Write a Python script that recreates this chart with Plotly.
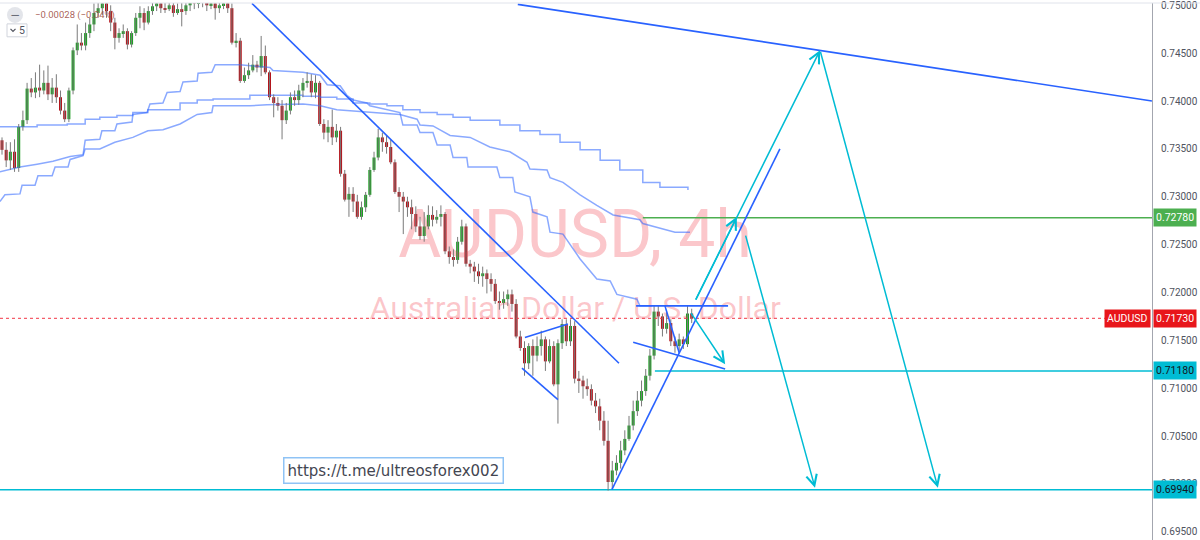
import plotly.graph_objects as go

# ---------------- data ----------------
first_open = 0.7359
closes = [0.7349,0.7338,0.7347,0.7330,0.7373,0.7380,0.7413,0.7409,0.7414,0.7411,
          0.7419,0.7407,0.7414,0.7404,0.7390,0.7381,0.7411,0.7453,0.7461,0.7458,
          0.7471,0.7480,0.7492,0.7497,0.7502,0.7494,0.7482,0.7466,0.7471,0.7473,
          0.7459,0.7471,0.7487,0.7492,0.7482,0.7494,0.7499,0.7502,0.7497,0.7496,
          0.7500,0.7492,0.7496,0.7494,0.7500,0.7505,0.7502,0.7504,0.7508,0.7500,
          0.7502,0.7497,0.7500,0.7502,0.7497,0.7461,0.7463,0.7421,0.7427,0.7432,
          0.7438,0.7435,0.7447,0.7430,0.7404,0.7398,0.7395,0.7380,0.7390,0.7404,
          0.7401,0.7411,0.7419,0.7421,0.7409,0.7419,0.7376,0.7367,0.7373,0.7362,
          0.7369,0.7324,0.7297,0.7303,0.7295,0.7279,0.7289,0.7302,0.7328,0.7341,
          0.7362,0.7357,0.7352,0.7336,0.7305,0.7300,0.7295,0.7289,0.7282,0.7269,
          0.7259,0.7269,0.7281,0.7276,0.7279,0.7282,0.7243,0.7237,0.7234,0.7253,
          0.7269,0.7230,0.7227,0.7222,0.7217,0.7220,0.7214,0.7209,0.7191,0.7189,
          0.7193,0.7198,0.7188,0.7154,0.7142,0.7126,0.7144,0.7134,0.7144,0.7151,
          0.7128,0.7144,0.7104,0.7147,0.7167,0.7149,0.7165,0.7110,0.7108,0.7102,
          0.7099,0.7087,0.7081,0.7066,0.7045,0.7002,0.7014,0.7022,0.7035,0.7047,
          0.7061,0.7076,0.7087,0.7097,0.7113,0.7134,0.7180,0.7175,0.7162,0.7168,
          0.7149,0.7144,0.7151,0.7146,0.7178,0.7173]
highs = [0.7362,0.7357,0.7357,0.7360,0.7376,0.7390,0.7419,0.7424,0.7430,0.7438,
         0.7432,0.7437,0.7424,0.7428,0.7411,0.7398,0.7414,0.7456,0.7480,0.7471,
         0.7482,0.7487,0.7502,0.7508,0.7511,0.7508,0.7500,0.7487,0.7476,0.7480,
         0.7476,0.7473,0.7492,0.7499,0.7497,0.7499,0.7508,0.7511,0.7508,0.7506,
         0.7508,0.7506,0.7502,0.7504,0.7508,0.7513,0.7513,0.7513,0.7515,0.7513,
         0.7509,0.7507,0.7508,0.7511,0.7508,0.7502,0.7471,0.7466,0.7435,0.7440,
         0.7448,0.7442,0.7468,0.7458,0.7432,0.7407,0.7404,0.7401,0.7398,0.7409,
         0.7411,0.7417,0.7424,0.7430,0.7428,0.7427,0.7421,0.7381,0.7380,0.7391,
         0.7376,0.7373,0.7328,0.7310,0.7310,0.7302,0.7295,0.7305,0.7331,0.7347,
         0.7371,0.7367,0.7364,0.7360,0.7339,0.7310,0.7305,0.7300,0.7297,0.7290,
         0.7279,0.7284,0.7291,0.7290,0.7286,0.7291,0.7284,0.7248,0.7245,0.7258,
         0.7276,0.7272,0.7234,0.7232,0.7230,0.7227,0.7224,0.7220,0.7214,0.7201,
         0.7201,0.7203,0.7203,0.7193,0.7160,0.7149,0.7147,0.7151,0.7154,0.7160,
         0.7154,0.7151,0.7149,0.7151,0.7172,0.7172,0.7172,0.7170,0.7118,0.7113,
         0.7110,0.7104,0.7095,0.7089,0.7076,0.7066,0.7024,0.7030,0.7045,0.7056,
         0.7071,0.7087,0.7097,0.7108,0.7120,0.7141,0.7186,0.7186,0.7178,0.7180,
         0.7172,0.7154,0.7157,0.7154,0.7186,0.7183]
lows = [0.7344,0.7331,0.7328,0.7326,0.7326,0.7369,0.7376,0.7404,0.7403,0.7404,
        0.7407,0.7401,0.7398,0.7398,0.7386,0.7378,0.7378,0.7407,0.7448,0.7453,
        0.7453,0.7466,0.7473,0.7487,0.7490,0.7487,0.7473,0.7454,0.7461,0.7466,
        0.7454,0.7456,0.7468,0.7476,0.7474,0.7480,0.7490,0.7494,0.7492,0.7492,
        0.7494,0.7488,0.7490,0.7478,0.7490,0.7494,0.7496,0.7497,0.7498,0.7494,
        0.7496,0.7485,0.7492,0.7496,0.7492,0.7459,0.7456,0.7419,0.7419,0.7423,
        0.7430,0.7430,0.7426,0.7428,0.7401,0.7383,0.7390,0.7360,0.7376,0.7386,
        0.7395,0.7396,0.7404,0.7414,0.7404,0.7403,0.7374,0.7360,0.7357,0.7354,
        0.7357,0.7321,0.7295,0.7279,0.7284,0.7277,0.7276,0.7284,0.7300,0.7326,
        0.7338,0.7347,0.7345,0.7334,0.7303,0.7284,0.7261,0.7279,0.7266,0.7263,
        0.7255,0.7253,0.7266,0.7269,0.7272,0.7269,0.7240,0.7230,0.7227,0.7230,
        0.7250,0.7227,0.7220,0.7211,0.7209,0.7206,0.7199,0.7201,0.7188,0.7182,
        0.7183,0.7186,0.7180,0.7152,0.7139,0.7113,0.7120,0.7113,0.7128,0.7134,
        0.7118,0.7126,0.7102,0.7063,0.7141,0.7144,0.7144,0.7105,0.7095,0.7089,
        0.7092,0.7082,0.7074,0.7056,0.7040,0.6993,0.6995,0.7009,0.7016,0.7030,
        0.7045,0.7056,0.7071,0.7081,0.7092,0.7108,0.7130,0.7165,0.7154,0.7157,
        0.7144,0.7137,0.7139,0.7141,0.7143,0.7168]

# stepped moving averages (bar index, price)
ma_fast_bar = [-0.5,2.6,4.3,8.4,12.2,16.3,19.4,19.9,23.4,23.9,27.0,27.5,31.1,31.3,34.7,35.4,38.5,39.5,
               42.6,43.3,46.7,46.9,50.2,51.0,56.9,64.1,64.8,72.0,76.1,77.8,80.9,82.5,84.0,87.3,88.0,
               95.2,95.9,99.3,100.0,103.1,104.1,107.2,107.9,111.2,111.5,118.4,119.1,122.2,122.7,126.3,
               127.0,130.4,131.1,134.2,138.3,142.3,145.5,147.1,151.9,152.6,155.5]
ma_fast_val = [0.7326,0.7329,0.7331,0.7334,0.7337,0.7342,0.7344,0.7359,0.7360,0.7369,0.7369,0.7376,
               0.7378,0.7386,0.7388,0.7397,0.7398,0.7409,0.7410,0.7420,0.7421,0.7429,0.7430,0.7438,
               0.7438,0.7435,0.7432,0.7430,0.7427,0.7417,0.7416,0.7406,0.7401,0.7398,0.7395,0.7388,
               0.7375,0.7375,0.7367,0.7367,0.7354,0.7354,0.7341,0.7341,0.7331,0.7331,0.7320,0.7320,
               0.7305,0.7300,0.7284,0.7279,0.7263,0.7261,0.7235,0.7214,0.7212,0.7198,0.7193,0.7186,0.7186]
ma_mid_bar = [-0.5,0.7,4.3,4.8,7.9,8.6,12.0,12.7,15.8,16.3,19.4,19.9,23.4,27.0,31.3,34.9,38.5,42.6,
              46.7,50.2,50.5,59.3,63.4,72.0,76.1,80.1,95.2,99.3,100.0,103.1,107.2,112.0,116.7,121.5,
              125.6,126.3,130.4,131.1,134.2,138.3,142.3,146.2,152.6,153.3,161.0,164.6]
ma_mid_val = [0.7295,0.7302,0.7303,0.7312,0.7312,0.7322,0.7322,0.7331,0.7331,0.7339,0.7343,0.7350,
              0.7350,0.7357,0.7362,0.7369,0.7370,0.7376,0.7386,0.7388,0.7395,0.7395,0.7396,0.7397,
              0.7395,0.7391,0.7386,0.7381,0.7375,0.7374,0.7364,0.7362,0.7352,0.7347,0.7336,0.7329,
              0.7328,0.7320,0.7315,0.7302,0.7291,0.7281,0.7276,0.7272,0.7263,0.7263]
ma_slow_bar = [-0.5,8.4,15.6,19.9,23.4,27.5,31.3,34.9,42.6,46.7,50.5,59.3,72.0,76.1,80.1,84.0,88.0,
               92.1,95.9,100.0,104.1,107.9,112.0,119.1,123.9,128.7,133.5,138.3,143.1,147.8,153.3,
               157.4,164.1]
ma_slow_val = [0.7373,0.7375,0.7376,0.7381,0.7383,0.7385,0.7388,0.7391,0.7398,0.7401,0.7402,0.7406,
               0.7405,0.7404,0.7402,0.7398,0.7397,0.7395,0.7391,0.7388,0.7386,0.7383,0.7380,0.7375,
               0.7369,0.7365,0.7357,0.7349,0.7338,0.7328,0.7315,0.7310,0.7307]

# drawn trend lines: (bar0, price0, bar1, price1)
trend_segments = [(59.8,0.7502,147.6,0.7126),
                  (123.4,0.7501,275.1,0.7400),
                  (145.9,0.6994,186.1,0.7350),
                  (125.1,0.7153,135.4,0.7167),
                  (124.4,0.7121,133.0,0.7088),
                  (151.7,0.7186,173.7,0.7186),
                  (151.0,0.7148,173.0,0.7120),
                  (158.6,0.7186,162.0,0.7137)]
# projection arrows: (from bar, from price, to bar, to price)
arrow_segments = [(165.8,0.7191,175.8,0.7279),
                  (177.8,0.7261,194.5,0.6996),
                  (165.8,0.7191,195.7,0.7453),
                  (195.7,0.7453,223.9,0.6996),
                  (164.6,0.7180,173.0,0.7125)]

level_green, level_green_start = 0.7278, 153.3
level_cyan_hi, level_cyan_hi_start = 0.7118, 156.2
level_cyan_lo = 0.6994
last_price = 0.7173

axis_ticks = [0.695,0.700,0.705,0.710,0.715,0.720,0.725,0.730,0.735,0.740,0.745,0.750]
tag_prices = [0.7278, 0.7173, 0.7118, 0.6994]
tag_texts = ["0.72780", "0.71730", "0.71180", "0.69940"]
symbol = "AUDUSD"
change_text = "−0.00028 (−0.04%)"
link_text = "https://t.me/ultreosforex002"

# ---------------- figure ----------------
X_MIN, X_MAX = -0.478, 275.12
Y_MIN, Y_MAX = 0.694138, 0.750242
n = len(closes)
idx = list(range(n))
opens = [first_open] + closes[:-1]

BLUE = "#2962ff"
CYAN = "#00bcd4"
GREEN_LVL = "#4caf50"
RED_TAG = "#e8161b"
UP = "#1b9e22"
DOWN = "#b3141b"
MA_COL = "rgba(41,98,255,0.55)"
WM_COL = "rgba(242,54,69,0.28)"

fig = go.Figure()

# watermark (behind everything)
fig.add_trace(go.Scatter(x=[137.1], y=[0.7254], mode="text", text=["AUDUSD, 4h"],
                         textfont=dict(family="Roboto", size=66, color=WM_COL), hoverinfo="skip"))
fig.add_trace(go.Scatter(x=[137.1], y=[0.7181], mode="text", text=["Australian Dollar / U.S. Dollar"],
                         textfont=dict(family="Roboto", size=32, color=WM_COL), hoverinfo="skip"))

# moving averages
for bx, vy, shp in [(ma_fast_bar, ma_fast_val, "linear"), (ma_mid_bar, ma_mid_val, "linear"),
                    (ma_slow_bar, ma_slow_val, "hv")]:
    fig.add_trace(go.Scatter(x=bx, y=vy, mode="lines", line=dict(color=MA_COL, width=1.5, shape=shp),
                             hoverinfo="skip"))

# levels
fig.add_trace(go.Scatter(x=[X_MIN, X_MAX], y=[last_price, last_price], mode="lines",
                         line=dict(color="#f23645", width=1, dash="dot"), hoverinfo="skip"))
fig.add_trace(go.Scatter(x=[level_green_start, X_MAX], y=[level_green, level_green], mode="lines",
                         line=dict(color=GREEN_LVL, width=1.5), hoverinfo="skip"))
fig.add_trace(go.Scatter(x=[level_cyan_hi_start, X_MAX], y=[level_cyan_hi, level_cyan_hi], mode="lines",
                         line=dict(color=CYAN, width=1.5), hoverinfo="skip"))
fig.add_trace(go.Scatter(x=[X_MIN, X_MAX], y=[level_cyan_lo, level_cyan_lo], mode="lines",
                         line=dict(color=CYAN, width=1.5), hoverinfo="skip"))

# wicks
wx, wy = [], []
for i in idx:
    wx += [i, i, None]
    wy += [lows[i], highs[i], None]
fig.add_trace(go.Scatter(x=wx, y=wy, mode="lines", line=dict(color="#7a7a7a", width=1),
                         hoverinfo="skip"))
# bodies
base = [min(o, c) for o, c in zip(opens, closes)]
height = [max(abs(c - o), 0.00008) for o, c in zip(opens, closes)]
cols = [UP if c >= o else DOWN for o, c in zip(opens, closes)]
fig.add_trace(go.Bar(x=idx, y=height, base=base, width=0.72, marker=dict(color=cols, line=dict(width=0)),
                     hoverinfo="skip"))

# trend lines
for b0, p0, b1, p1 in trend_segments:
    fig.add_trace(go.Scatter(x=[b0, b1], y=[p0, p1], mode="lines", line=dict(color=BLUE, width=1.6),
                             hoverinfo="skip"))

annotations = []
for b0, p0, b1, p1 in arrow_segments:
    annotations.append(dict(x=b1, y=p1, ax=b0, ay=p0, xref="x", yref="y", axref="x", ayref="y",
                            text="", showarrow=True, arrowhead=5, arrowsize=1.4, arrowwidth=1.5,
                            arrowcolor=CYAN, standoff=0, startstandoff=0))

# price tags on the axis
tag_bg = [GREEN_LVL, RED_TAG, CYAN, CYAN]
tag_fg = ["white", "white", "#131722", "#131722"]
for p, t, bg, fg in zip(tag_prices, tag_texts, tag_bg, tag_fg):
    annotations.append(dict(x=1, xref="paper", y=p, yref="y", xanchor="left", yanchor="middle",
                            xshift=1, text=t, showarrow=False, bgcolor=bg, borderpad=2,
                            font=dict(family="Roboto", size=10.5, color=fg)))
annotations.append(dict(x=1, xref="paper", y=last_price, yref="y", xanchor="right", yanchor="middle",
                        xshift=-1, text=symbol, showarrow=False, bgcolor=RED_TAG, borderpad=2,
                        font=dict(family="Roboto", size=10.5, color="white")))

# link box
annotations.append(dict(x=393/1152, y=1-470/540, xref="paper", yref="paper", text=link_text,
                        xanchor="center", yanchor="middle",
                        showarrow=False, bgcolor="white", bordercolor="#8fc3f5", borderwidth=1.5,
                        borderpad=3, font=dict(family="DejaVu Sans", size=15, color="#434651")))

# top-left legend bits
annotations.append(dict(x=15/1152, y=1-12/540, xref="paper", yref="paper", text="−",
                        xanchor="center", yanchor="middle",
                        showarrow=False, font=dict(family="DejaVu Sans", size=12, color="#6a6d78")))
annotations.append(dict(x=33/1152, y=1-12/540, xref="paper", yref="paper", text=change_text,
                        xanchor="left", yanchor="middle", showarrow=False,
                        font=dict(family="Roboto", size=9.5, color="rgba(160,80,70,0.9)")))
annotations.append(dict(x=21.5/1152, y=1-27.5/540, xref="paper", yref="paper", text="5",
                        xanchor="center", yanchor="middle",
                        showarrow=False, font=dict(family="Roboto", size=10.5, color="#50535e")))

shapes = [
    dict(type="circle", xref="paper", yref="paper", x0=7/1152, x1=23/1152, y0=1-20/540, y1=1-4/540,
         fillcolor="#e3e5ea", line=dict(width=0)),
    dict(type="rect", xref="paper", yref="paper", x0=7/1152, x1=27/1152, y0=1-34/540, y1=1-21/540,
         fillcolor="rgba(255,255,255,0.9)", line=dict(color="#d1d4dc", width=1)),
    dict(type="path", xref="paper", yref="paper",
         path=f"M {10.5/1152} {1-26/540} L {13/1152} {1-28.5/540} L {15.5/1152} {1-26/540}",
         line=dict(color="#50535e", width=1.2)),
    dict(type="line", xref="paper", yref="paper", x0=0, x1=1200/1152, y0=1, y1=1,
         line=dict(color="#e0e3eb", width=1)),
]

fig.update_layout(
    width=1200, height=540, margin=dict(l=0, r=48, t=0, b=0),
    paper_bgcolor="white", plot_bgcolor="white", showlegend=False, barmode="overlay",
    xaxis=dict(range=[X_MIN, X_MAX], visible=False, showgrid=False, zeroline=False),
    yaxis=dict(range=[Y_MIN, Y_MAX], side="right", tickvals=axis_ticks,
               ticktext=[f"{v:.5f}" for v in axis_ticks], showgrid=False, zeroline=False,
               showline=True, linecolor="#a3a6af", linewidth=1, ticks="",
               ticklabeloverflow="allow",
               ticklabelstandoff=6, tickfont=dict(family="Roboto", size=10, color="#50535e")),
    annotations=annotations, shapes=shapes,
)

fig.write_html("out.html", config={"displayModeBar": False},
               post_script="document.body.style.margin='0';document.body.style.overflow='hidden';")
